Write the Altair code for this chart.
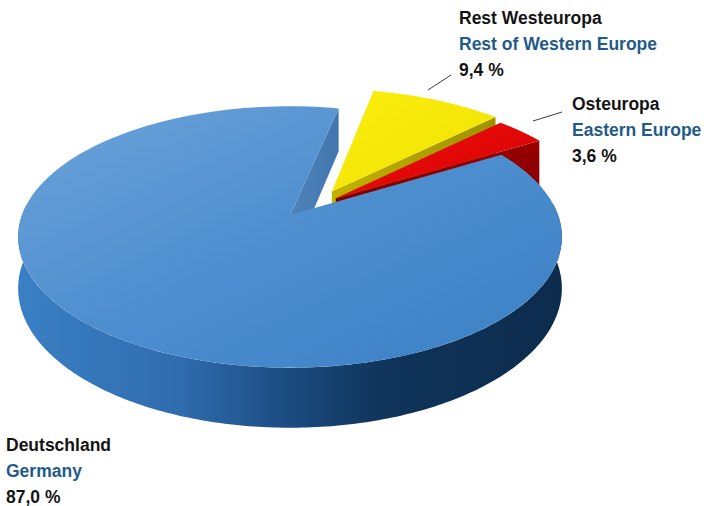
import numpy as np
import pandas as pd
import altair as alt

# ---------------- data ----------------
categories = ["Rest Westeuropa", "Osteuropa", "Deutschland"]
labels_en = ["Rest of Western Europe", "Eastern Europe", "Germany"]
shares = [9.4, 3.6, 87.0]
share_labels = ["9,4 %", "3,6 %", "87,0 %"]

# ---------------- layout / style ----------------
START_DEG = -77.8            # angle where the first slice begins (screen, clockwise)
EXPLODE = [0.25, 0.22, 0.0]  # explode distance as fraction of radius
EXPLODE_TURN = [11.0, 0.0, 0.0]  # small turn of the explode direction (deg)
CX, CY = 290.0, 215.0        # projected pie centre
RX, RY = 268.0, 127.0        # ellipse radii
PERSP = 0.168                # perspective strength
DEPTH = 50.0                 # thickness of the pie
W, H = 704, 506


def proj(u, v, h):
    w = 1.0 / (1.0 - PERSP * v)
    return CX + RX * u * w, CY + (RY * v + h) * w


rows = []


def add(name, pts):
    for i, (x, y) in enumerate(pts):
        rows.append({"poly": name, "i": i, "x": float(x), "y": float(y)})


cum = START_DEG
for cat, s, e, turn in zip(categories, shares, EXPLODE, EXPLODE_TURN):
    a = cum
    b = cum + s / 100.0 * 360.0
    cum = b
    m = np.radians((a + b) / 2.0 + turn)
    ox, oy = e * np.cos(m), e * np.sin(m)
    ts = np.radians(np.linspace(a, b, 160))
    top = [proj(ox, oy, 0)] + [proj(np.cos(t) + ox, np.sin(t) + oy, 0) for t in ts]
    add(cat + "|top", top)
    tb = np.radians(b)
    wall = [proj(ox, oy, 0),
            proj(np.cos(tb) + ox, np.sin(tb) + oy, 0),
            proj(np.cos(tb) + ox, np.sin(tb) + oy, DEPTH),
            proj(ox, oy, DEPTH)]
    add(cat + "|wall", wall)
    lo, hi = max(a, -5.0), min(b, 185.0)
    if hi > lo:
        ts2 = np.radians(np.linspace(lo, hi, 220))
        side = [proj(np.cos(t) + ox, np.sin(t) + oy, 0) for t in ts2] + \
               [proj(np.cos(t) + ox, np.sin(t) + oy, DEPTH) for t in ts2[::-1]]
        add(cat + "|side", side)

poly_df = pd.DataFrame(rows)

xs = alt.X("x:Q", scale=alt.Scale(domain=[0, W], nice=False, zero=False), axis=None)
ys = alt.Y("y:Q", scale=alt.Scale(domain=[0, H], nice=False, zero=False, reverse=True), axis=None)


def grad(stops, x1=0, y1=0, x2=1, y2=0):
    return alt.LinearGradient(
        gradient="linear",
        stops=[alt.GradientStop(color=c, offset=o) for o, c in stops],
        x1=x1, y1=y1, x2=x2, y2=y2,
    )


def poly_layer(name, fill):
    return (
        alt.Chart(poly_df)
        .transform_filter(alt.datum.poly == name)
        .mark_line(fill=fill, strokeOpacity=0, strokeWidth=0, interpolate="linear")
        .encode(x=xs, y=ys, order=alt.Order("i:Q"))
    )


styles = {
    "Rest Westeuropa|wall": grad([(0, "#c2b200"), (1, "#9e9200")]),
    "Rest Westeuropa|top": grad([(0, "#fbef10"), (1, "#efe000")], 0, 0, 1, 1),
    "Osteuropa|wall": grad([(0, "#9a0000"), (1, "#6a0000")], 0, 0, 0, 1),
    "Osteuropa|top": grad([(0, "#ee1010"), (1, "#d60000")], 0, 0, 1, 1),
    "Deutschland|side": grad([(0, "#3a7fc4"), (0.3, "#2f6cae"), (0.5, "#1b4b80"),
                              (0.68, "#0f3359"), (1, "#0c2c4d")]),
    "Deutschland|wall": grad([(0, "#4f84bb"), (1, "#4276ae")]),
    "Deutschland|top": grad([(0, "#6da3da"), (0.5, "#4d8ecf"), (1, "#3a80c5")], 0, 0, 1, 1),
}
order = ["Rest Westeuropa|wall", "Rest Westeuropa|top", "Osteuropa|wall", "Osteuropa|top",
         "Deutschland|side", "Deutschland|wall", "Deutschland|top"]
layers = [poly_layer(n, styles[n]) for n in order]

# ---------------- labels ----------------
FONT = "Liberation Sans"
FS = 17.5
BLACK = "#141414"
BLUE = "#1f5b8a"
label_pos = {  # left x, first baseline
    "Rest Westeuropa": (459, 24),
    "Osteuropa": (572, 110),
    "Deutschland": (6, 451),
}
LINE = 26
for cat, en, pct in zip(categories, labels_en, share_labels):
    lx, ly = label_pos[cat]
    for k, (txt, col) in enumerate([(cat, BLACK), (en, BLUE), (pct, BLACK)]):
        layers.append(
            alt.Chart(pd.DataFrame({"t": [txt]}))
            .mark_text(align="left", baseline="alphabetic", font=FONT, fontSize=FS,
                       fontWeight="bold", color=col)
            .encode(text="t:N", x=alt.value(lx), y=alt.value(ly + k * LINE))
        )

leader = [((428, 90), (451, 75)), ((533, 121), (562, 112))]
for (x1, y1), (x2, y2) in leader:
    layers.append(
        alt.Chart(pd.DataFrame({"a": [0]}))
        .mark_rule(color="#3a3a3a", strokeWidth=1)
        .encode(x=alt.value(x1), y=alt.value(y1), x2=alt.value(x2), y2=alt.value(y2))
    )

chart = (
    alt.layer(*layers)
    .properties(width=W, height=H, autosize="none", padding=0, background="white")
    .configure_view(strokeWidth=0)
)

chart.save("out.html", embed_options={"renderer": "svg", "actions": False})
